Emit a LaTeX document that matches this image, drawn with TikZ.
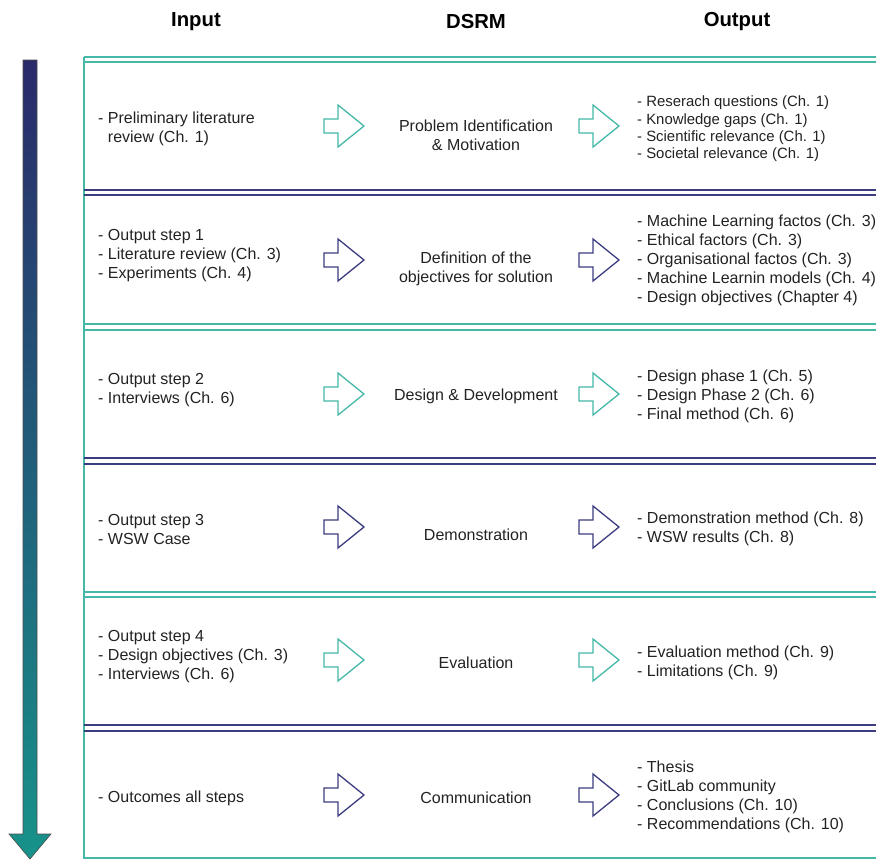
\documentclass[tikz,border=0pt]{standalone}
\usepackage{fontspec}
\setmainfont{Liberation Sans}
\definecolor{tealc}{HTML}{45B8A8}
\definecolor{purplec}{HTML}{3C3C80}
\definecolor{txtc}{HTML}{222222}
\definecolor{navyc}{HTML}{2A2A6A}
\definecolor{tealdark}{HTML}{17928A}
\begin{document}
\begin{tikzpicture}[x=1pt,y=-1pt,
  txt/.style={inner sep=0pt, text=txtc, font=\fontsize{16}{19}\selectfont},
  smalltxt/.style={inner sep=0pt, text=txtc, font=\fontsize{14.9}{17.4}\selectfont},
  intext/.style={txt, anchor=west, align=left},
  outtext/.style={txt, anchor=west, align=left},
  dsrmtext/.style={txt, anchor=center, align=center},
  head/.style={inner sep=0pt, text=black, font=\fontsize{20.3}{23}\selectfont\bfseries},
  sepline/.style={line width=1.6pt},
  blockarrow/.pic={\draw[line width=1.3pt, miter limit=10, fill=white]
     (0,-7) -- (14,-7) -- (14,-21) -- (40,0) -- (14,21) -- (14,7) -- (0,7) -- cycle;}
]
\useasboundingbox (0,0) rectangle (876,860);

% column headings
\node[head] (hin)  at (196,22) {Input};
\node[head] (hds)  at (476,22) {DSRM};
\node[head] (hout) at (737,22) {Output};

% process direction arrow
\shadedraw[top color=navyc, bottom color=tealdark, draw=black!70, line width=0.6pt]
  (23,60) -- (37,60) -- (37,834) -- (51,834) -- (30,859) -- (9,834) -- (23,834) -- cycle;

% frame: left edge and bottom
\draw[tealc, sepline] (84,57) -- (84,858) -- (877,858);

% row separators (double lines)
\foreach \ya/\yb/\c in {57/62/tealc, 190/195/purplec, 324/330/tealc,
                        458/464/purplec, 592/597/tealc, 725/731/purplec}{
  \draw[\c, sepline] (84,\ya) -- (877,\ya);
  \draw[\c, sepline] (84,\yb) -- (877,\yb);
}

% row 1
\node[intext] (in1) at (98,129) {- Preliminary literature\\\phantom{- }review (Ch. 1)};
\pic[color=tealc] at (324,126) {blockarrow};
\node[dsrmtext] (ds1) at (476,135) {Problem Identification\\\& Motivation};
\pic[color=tealc] at (579,126) {blockarrow};
\node[smalltxt, anchor=west, align=left] (out1) at (637,129) {- Reserach questions (Ch. 1)\\- Knowledge gaps (Ch. 1)\\- Scientific relevance (Ch. 1)\\- Societal relevance (Ch. 1)};

% row 2
\node[intext] (in2) at (98,256) {- Output step 1\\- Literature review (Ch. 3)\\- Experiments (Ch. 4)};
\pic[color=purplec] at (324,260) {blockarrow};
\node[dsrmtext] (ds2) at (476,269) {Definition of the\\objectives for solution};
\pic[color=purplec] at (579,260) {blockarrow};
\node[outtext] (out2) at (637,260) {- Machine Learning factos (Ch. 3)\\- Ethical factors (Ch. 3)\\- Organisational factos (Ch. 3)\\- Machine Learnin models (Ch. 4)\\- Design objectives (Chapter 4)};

% row 3
\node[intext] (in3) at (98,390) {- Output step 2\\- Interviews (Ch. 6)};
\pic[color=tealc] at (324,394) {blockarrow};
\node[dsrmtext] (ds3) at (476,396) {Design \& Development};
\pic[color=tealc] at (579,394) {blockarrow};
\node[outtext] (out3) at (637,396) {- Design phase 1 (Ch. 5)\\- Design Phase 2 (Ch. 6)\\- Final method (Ch. 6)};

% row 4
\node[intext] (in4) at (98,529) {- Output step 3\\- WSW Case};
\pic[color=purplec] at (324,527) {blockarrow};
\node[dsrmtext] (ds4) at (476,535) {Demonstration};
\pic[color=purplec] at (579,527) {blockarrow};
\node[outtext] (out4) at (637,529) {- Demonstration method (Ch. 8)\\- WSW results (Ch. 8)};

% row 5
\node[intext] (in5) at (98,657) {- Output step 4\\- Design objectives (Ch. 3)\\- Interviews (Ch. 6)};
\pic[color=tealc] at (324,660) {blockarrow};
\node[dsrmtext] (ds5) at (476,663) {Evaluation};
\pic[color=tealc] at (579,660) {blockarrow};
\node[outtext] (out5) at (637,663) {- Evaluation method (Ch. 9)\\- Limitations (Ch. 9)};

% row 6
\node[intext] (in6) at (98,798) {- Outcomes all steps};
\pic[color=purplec] at (324,795) {blockarrow};
\node[dsrmtext] (ds6) at (476,798) {Communication};
\pic[color=purplec] at (579,795) {blockarrow};
\node[outtext] (out6) at (637,797) {- Thesis\\- GitLab community\\- Conclusions (Ch. 10)\\- Recommendations (Ch. 10)};
\end{tikzpicture}
\end{document}
